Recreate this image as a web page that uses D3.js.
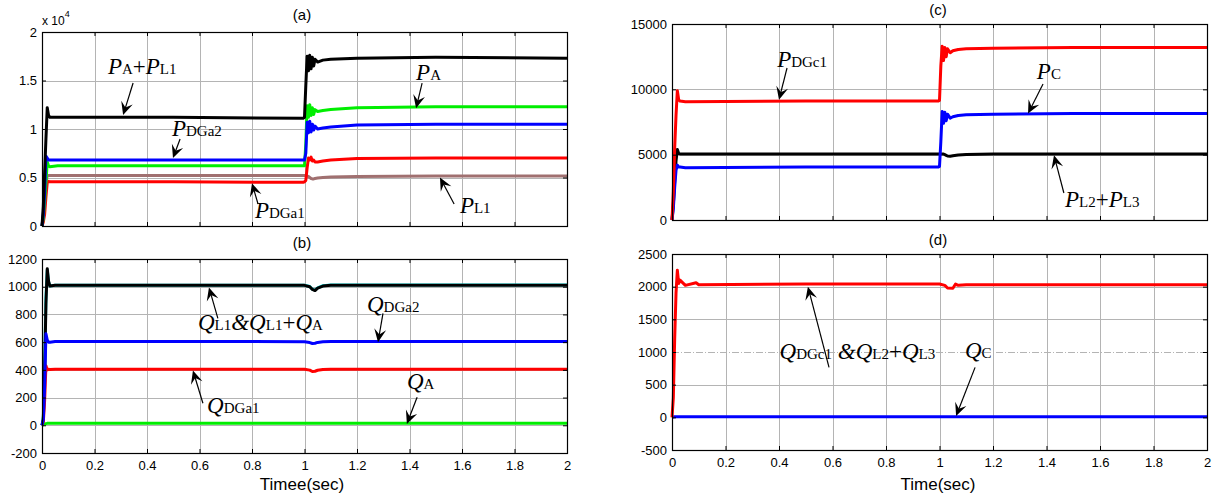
<!DOCTYPE html>
<html><head><meta charset="utf-8">
<script src="https://cdn.jsdelivr.net/npm/d3@7"></script>
<style>body{margin:0;background:#fff}svg{display:block}</style>
</head><body><svg id="c" width="1215" height="499"></svg>
<script>
// ---------- data ----------
const xTicks = [0,0.2,0.4,0.6,0.8,1,1.2,1.4,1.6,1.8,2];
const xTickLabels = ["0","0.2","0.4","0.6","0.8","1","1.2","1.4","1.6","1.8","2"];

// panel (a)  values in x10^4
const aYTicks = [0,0.5,1,1.5,2];
const aYLabels = ["0","0.5","1","1.5","2"];
const tA = [0,0.005,0.01,0.015,0.02,0.025,0.03,0.06,0.5,0.995,1.0,1.005,1.01,1.015,1.02,1.025,1.03,1.035,1.04,1.05,1.07,1.1,1.2,1.5,2.0];
const aPAPL1 = [0,0.2,0.55,0.9,1.22,1.14,1.12,1.12,1.12,1.11,1.12,1.45,1.75,1.60,1.76,1.62,1.74,1.65,1.72,1.69,1.71,1.72,1.73,1.74,1.73];
const aPA    = [0,0.08,0.25,0.45,0.66,0.62,0.61,0.62,0.62,0.62,0.62,0.85,1.24,1.12,1.25,1.14,1.22,1.15,1.20,1.18,1.19,1.20,1.22,1.23,1.23];
const aPDGa2 = [0,0.12,0.35,0.72,0.70,0.68,0.68,0.68,0.68,0.68,0.68,0.75,1.07,0.96,1.08,0.97,1.05,0.99,1.03,1.00,1.01,1.02,1.04,1.05,1.05];
const aPDGa1 = [0,0.04,0.12,0.3,0.45,0.46,0.455,0.455,0.455,0.45,0.455,0.47,0.60,0.70,0.68,0.71,0.67,0.68,0.66,0.66,0.67,0.68,0.695,0.70,0.70];
const aPL1   = [0,0.1,0.3,0.45,0.52,0.52,0.52,0.52,0.52,0.52,0.52,0.52,0.515,0.51,0.50,0.49,0.485,0.485,0.49,0.495,0.50,0.505,0.51,0.515,0.515];

// panel (b)
const bYTicks = [-200,0,200,400,600,800,1000,1200];
const bYLabels = ["-200","0","200","400","600","800","1000","1200"];
const tB = [0,0.005,0.01,0.015,0.02,0.025,0.03,0.05,0.5,1.0,1.02,1.03,1.04,1.05,1.07,1.1,2.0];
const bQL1QA  = [0,40,380,880,1130,1040,1005,1010,1010,1010,1000,980,972,990,1005,1010,1010];
const bQL1    = [0,60,420,920,1120,1035,1005,1010,1010,1010,1002,982,975,992,1007,1012,1012];
const bQDGa2  = [0,40,280,660,615,600,600,605,605,603,597,590,592,598,602,605,605];
const bQDGa1  = [0,25,180,430,400,405,402,405,405,405,398,388,390,397,402,405,405];
const bQA     = [0,4,8,12,14,15,15,15,15,15,15,15,15,15,15,15,15];

// panel (c)
const cYTicks = [0,5000,10000,15000];
const cYLabels = ["0","5000","10000","15000"];
const tC = [0,0.005,0.01,0.015,0.02,0.025,0.03,0.05,0.5,0.995,1.0,1.005,1.01,1.015,1.02,1.025,1.03,1.04,1.05,1.07,1.1,1.2,1.5,2.0];
const cPDGc1 = [0,2200,5500,8000,9900,9200,9100,9050,9100,9100,9150,11800,13300,12200,13200,12500,13100,12800,12950,13050,13100,13150,13200,13200];
const cPC    = [0,900,2500,3800,4200,4050,4050,4000,4050,4050,4100,6000,8300,7400,8250,7600,8100,7800,7900,8000,8050,8100,8150,8150];
const cPL23  = [0,1200,3000,4500,5400,5100,5050,5050,5050,5050,5050,5050,5050,5050,5000,4950,4900,4880,4920,4980,5020,5050,5050,5050];

// panel (d)
const dYTicks = [-500,0,500,1000,1500,2000,2500];
const dYLabels = ["-500","0","500","1000","1500","2000","2500"];
const tD = [0,0.005,0.01,0.015,0.02,0.025,0.03,0.05,0.09,0.1,0.5,1.0,1.02,1.03,1.05,1.06,1.07,1.1,2.0];
const dQDGc1 = [0,300,1200,1900,2250,2050,2100,2020,2060,2030,2040,2040,2020,1980,1975,2040,2020,2030,2030];
const dQC    = [0,5,10,10,10,10,10,10,10,10,10,10,10,10,10,10,10,10,10];

// ---------- drawing ----------
const svg = d3.select("#c");
const SERIF = "'Liberation Serif','Times New Roman',serif";
const SANS = "'Liberation Sans',Arial,sans-serif";

function zip(t, v){ return t.map((x,i)=>[x, v[i]]); }

function panel(o){
  const x = d3.scaleLinear().domain([0,2]).range([o.l,o.r]);
  const y = d3.scaleLinear().domain(o.yDom).range([o.b,o.t]);
  const g = svg.append("g");
  const w = o.r-o.l, h = o.b-o.t;
  // grid
  const gg = g.append("g").attr("stroke","#b4b4b4").attr("stroke-width",1);
  xTicks.slice(1,-1).forEach(v=>{
    gg.append("line").attr("x1",Math.round(x(v))+0.5).attr("x2",Math.round(x(v))+0.5).attr("y1",o.t).attr("y2",o.b);
  });
  o.yTicks.forEach(v=>{
    if (v===o.yDom[0]||v===o.yDom[1]) return;
    const ln = gg.append("line").attr("x1",o.l).attr("x2",o.r).attr("y1",Math.round(y(v))+0.5).attr("y2",Math.round(y(v))+0.5);
    if (o.dashY===v) ln.attr("stroke-dasharray","7,2,1,2");
  });
  // series
  const line = d3.line().x(d=>x(d[0])).y(d=>y(d[1]));
  g.append("g").selectAll("path").data(o.series).join("path")
    .attr("d",s=>line(zip(s.t,s.v))).attr("fill","none")
    .attr("stroke",s=>s.c).attr("stroke-width",s=>s.w||3).attr("stroke-linejoin","round");
  // axes
  const fmtY = (d)=>o.yLabels[o.yTicks.indexOf(d)];
  const fmtX = (d)=>xTickLabels[xTicks.indexOf(d)];
  const styleAxis = sel=>{ sel.select(".domain").remove(); sel.selectAll("line").attr("stroke","#000"); sel.selectAll("text").attr("font-family",SANS).attr("font-size",13).attr("fill","#000"); };
  g.append("g").attr("transform",`translate(${o.l},0)`).call(d3.axisLeft(y).tickValues(o.yTicks).tickFormat(fmtY).tickSize(-4).tickPadding(5)).call(styleAxis);
  g.append("g").attr("transform",`translate(${o.r},0)`).call(d3.axisRight(y).tickValues(o.yTicks).tickFormat("").tickSize(-4)).call(styleAxis);
  g.append("g").attr("transform",`translate(0,${o.b})`).call(d3.axisBottom(x).tickValues(xTicks).tickFormat(o.xLab?fmtX:"").tickSize(-4).tickPadding(8)).call(styleAxis);
  g.append("g").attr("transform",`translate(0,${o.t})`).call(d3.axisTop(x).tickValues(xTicks).tickFormat("").tickSize(-4)).call(styleAxis);
  g.append("rect").attr("x",o.l+0.5).attr("y",o.t+0.5).attr("width",w).attr("height",h).attr("fill","none").attr("stroke","#000").attr("stroke-width",1.2);
  // title
  g.append("text").attr("x",o.titleX).attr("y",o.titleY).attr("text-anchor","middle").attr("font-family",SANS).attr("font-size",15).text(o.title);
  // annotations
  o.ann.forEach(a=>{
    const tx = g.append("text").attr("x",x(a.x)).attr("y",y(a.y)).attr("font-family",SERIF).attr("fill","#000");
    a.parts.forEach(p=>{
      const ts = tx.append("tspan").text(p[0]);
      if (p[1]==="i") ts.attr("font-style","italic").attr("font-size",23);
      else if (p[1]==="s") ts.attr("font-size",15);
      else ts.attr("font-size",23);
    });
    const x1=x(a.a[0]), y1=y(a.a[1]), x2=x(a.a[2]), y2=y(a.a[3]);
    const dx=x2-x1, dy=y2-y1, L=Math.hypot(dx,dy), ux=dx/L, uy=dy/L, nx=-uy, ny=ux;
    const AL=13, AW=6;
    g.append("line").attr("x1",x1).attr("y1",y1).attr("x2",x2-ux*6).attr("y2",y2-uy*6).attr("stroke","#000").attr("stroke-width",1.2);
    g.append("path").attr("d",`M${x2},${y2}L${x2-ux*AL+nx*AW},${y2-uy*AL+ny*AW}L${x2-ux*AL*0.6},${y2-uy*AL*0.6}L${x2-ux*AL-nx*AW},${y2-uy*AL-ny*AW}Z`).attr("fill","#000");
  });
  return {g,x,y};
}

panel({l:42,r:567,t:32,b:226,yDom:[0,2],yTicks:aYTicks,yLabels:aYLabels,xLab:false,
  title:"(a)",titleX:302,titleY:20,
  series:[
    {t:tA,v:aPL1,c:"#a07070"},
    {t:tA,v:aPDGa1,c:"#ff0000"},
    {t:tA,v:aPA,c:"#00ee00"},
    {t:tA,v:aPDGa2,c:"#0000ff"},
    {t:tA,v:aPAPL1,c:"#000000"}],
  ann:[
    {x:0.251,y:1.567,parts:[["P","i"],["A","s"],["+","n"],["P","i"],["L1","s"]],a:[0.347,1.474,0.309,1.144]},
    {x:0.495,y:0.928,parts:[["P","i"],["DGa2","s"]],a:[0.526,0.897,0.499,0.70]},
    {x:0.811,y:0.082,parts:[["P","i"],["DGa1","s"]],a:[0.823,0.227,0.80,0.44]},
    {x:1.425,y:1.505,parts:[["P","i"],["A","s"]],a:[1.448,1.474,1.425,1.215]},
    {x:1.592,y:0.134,parts:[["P","i"],["L1","s"]],a:[1.57,0.227,1.516,0.50]}
  ]});
// x10^4 label
const ex = svg.append("text").attr("x",42).attr("y",25).attr("font-family",SANS).attr("font-size",12);
ex.append("tspan").text("x 10");
ex.append("tspan").attr("font-size",9).attr("dy",-8).text("4");

panel({l:42,r:567,t:259,b:453,yDom:[-200,1200],yTicks:bYTicks,yLabels:bYLabels,xLab:true,
  title:"(b)",titleX:302,titleY:248,
  series:[
    {t:tB,v:bQL1,c:"#00e0e0"},
    {t:tB,v:bQL1QA,c:"#000000"},
    {t:tB,v:bQA,c:"#00ee00"},
    {t:tB,v:bQDGa1,c:"#ff0000"},
    {t:tB,v:bQDGa2,c:"#0000ff"}],
  ann:[
    {x:0.594,y:685,parts:[["Q","i"],["L1","s"],["&","i"],["Q","i"],["L1","s"],["+","n"],["Q","i"],["A","s"]],a:[0.67,772,0.636,995]},
    {x:1.238,y:815,parts:[["Q","i"],["DGa2","s"]],a:[1.299,808,1.28,600]},
    {x:0.629,y:87,parts:[["Q","i"],["DGa1","s"]],a:[0.613,159,0.575,395]},
    {x:1.39,y:260,parts:[["Q","i"],["A","s"]],a:[1.429,202,1.39,10]}
  ]});
svg.append("text").attr("x",302).attr("y",490).attr("text-anchor","middle").attr("font-family",SANS).attr("font-size",17).text("Timee(sec)");

panel({l:672,r:1207,t:24,b:220,yDom:[0,15000],yTicks:cYTicks,yLabels:cYLabels,xLab:false,
  title:"(c)",titleX:938,titleY:15,
  series:[
    {t:tC,v:cPL23,c:"#000000"},
    {t:tC,v:cPC,c:"#0000ff"},
    {t:tC,v:cPDGc1,c:"#ff0000"}],
  ann:[
    {x:0.393,y:11709,parts:[["P","i"],["DGc1","s"]],a:[0.43,11632,0.40,9200]},
    {x:1.364,y:10790,parts:[["P","i"],["C","s"]],a:[1.387,10408,1.331,8150]},
    {x:1.469,y:1005,parts:[["P","i"],["L2","s"],["+","n"],["P","i"],["L3","s"]],a:[1.465,2066,1.428,4950]}
  ]});

panel({l:672,r:1207,t:254,b:450,yDom:[-500,2500],yTicks:dYTicks,yLabels:dYLabels,xLab:true,dashY:1000,
  title:"(d)",titleX:938,titleY:245,
  series:[
    {t:tD,v:dQC,c:"#0000ff"},
    {t:tD,v:dQDGc1,c:"#ff0000"}],
  ann:[
    {x:0.402,y:888,parts:[["Q","i"],["DGc1","s"],[" &","i"],["Q","i"],["L2","s"],["+","n"],["Q","i"],["L3","s"]],a:[0.587,765,0.508,2000]},
    {x:1.095,y:903,parts:[["Q","i"],["C","s"]],a:[1.133,765,1.062,20]}
  ]});
svg.append("text").attr("x",938).attr("y",490).attr("text-anchor","middle").attr("font-family",SANS).attr("font-size",17).text("Time(sec)");
</script></body></html>
